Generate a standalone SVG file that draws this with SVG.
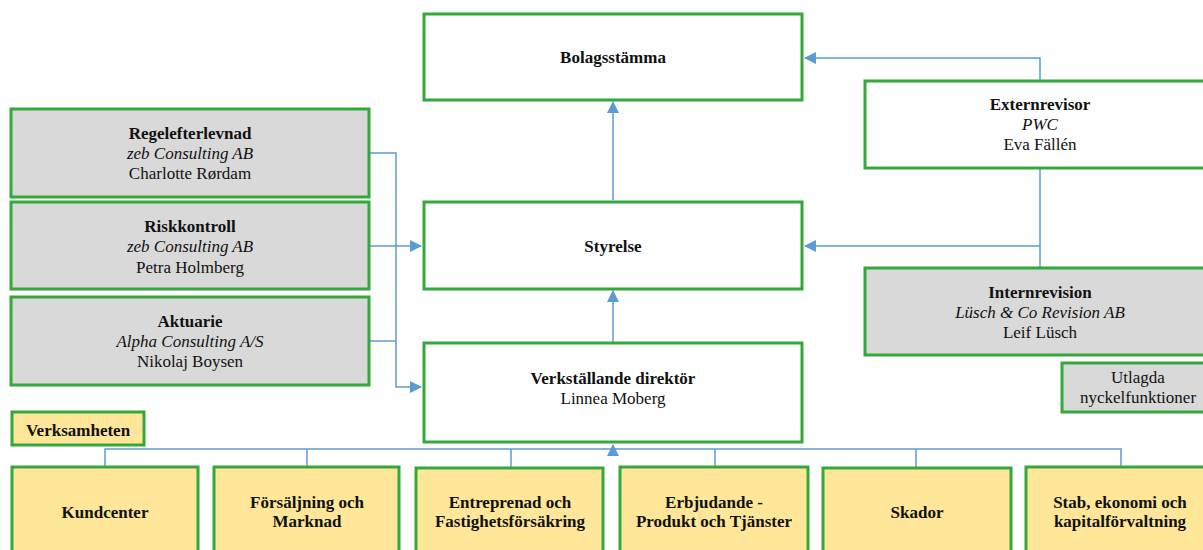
<svg xmlns="http://www.w3.org/2000/svg" width="1203" height="550" viewBox="0 0 1203 550">
<style>
  .box{stroke:#34A83A;stroke-width:3}
  .w{fill:#FFFFFF}
  .g{fill:#D9D9D9}
  .y{fill:#FFE699}
  text{font-family:'Liberation Serif','Times New Roman',serif;font-size:17px;fill:#111;text-anchor:middle}
  .b{font-weight:bold}
  .i{font-style:italic}
  .c{fill:none;stroke:#5B9BD5;stroke-width:1.5}
</style>
<defs>
  <marker id="ah" markerUnits="userSpaceOnUse" markerWidth="12" markerHeight="12" viewBox="0 0 12 12" refX="11" refY="6" orient="auto">
    <path d="M0,0 L12,6 L0,12 Z" fill="#5B9BD5"/>
  </marker>
</defs>
<rect width="1203" height="550" fill="#FFFFFF"/>
<g id="connectors">
  <path class="c" d="M1040,80 V58 H805" marker-end="url(#ah)"/>
  <path class="c" d="M1040,168 V268"/>
  <path class="c" d="M1040,246 H805" marker-end="url(#ah)"/>
  <path class="c" d="M613,200 V102" marker-end="url(#ah)"/>
  <path class="c" d="M613,342 V291" marker-end="url(#ah)"/>
  <path class="c" d="M369,153 H396 V387 H421" marker-end="url(#ah)"/>
  <path class="c" d="M369,246 H421" marker-end="url(#ah)"/>
  <path class="c" d="M369,341 H396"/>
  <path class="c" d="M105,467 V449 H1121 V467"/>
  <path class="c" d="M307,449 V467 M511,449 V467 M715,449 V467 M916,449 V467"/>
  <path class="c" d="M613,449 V445" marker-end="url(#ah)"/>
</g>
<g id="bolagsstamma">
  <rect class="box w" x="424" y="14" width="378" height="86"/>
  <text class="b" x="613" y="63">Bolagsstämma</text>
</g>
<g id="styrelse">
  <rect class="box w" x="424" y="202" width="378" height="87"/>
  <text class="b" x="613" y="252">Styrelse</text>
</g>
<g id="vd">
  <rect class="box w" x="424" y="343" width="378" height="99"/>
  <text class="b" x="613" y="384">Verkställande direktör</text>
  <text x="613" y="404">Linnea Moberg</text>
</g>
<g id="regelefterlevnad">
  <rect class="box g" x="11" y="109" width="358" height="88"/>
  <text class="b" x="190" y="139">Regelefterlevnad</text>
  <text class="i" x="190" y="159">zeb Consulting AB</text>
  <text x="190" y="179">Charlotte Rørdam</text>
</g>
<g id="riskkontroll">
  <rect class="box g" x="11" y="202" width="358" height="87"/>
  <text class="b" x="190" y="232">Riskkontroll</text>
  <text class="i" x="190" y="252">zeb Consulting AB</text>
  <text x="190" y="273">Petra Holmberg</text>
</g>
<g id="aktuarie">
  <rect class="box g" x="11" y="297" width="358" height="88"/>
  <text class="b" x="190" y="327">Aktuarie</text>
  <text class="i" x="190" y="347">Alpha Consulting A/S</text>
  <text x="190" y="367">Nikolaj Boysen</text>
</g>
<g id="externrevisor">
  <rect class="box w" x="865" y="81" width="352" height="87"/>
  <text class="b" x="1040" y="110">Externrevisor</text>
  <text class="i" x="1040" y="130">PWC</text>
  <text x="1040" y="150">Eva Fällén</text>
</g>
<g id="internrevision">
  <rect class="box g" x="865" y="268" width="352" height="87"/>
  <text class="b" x="1040" y="298">Internrevision</text>
  <text class="i" x="1040" y="318">Lüsch &amp; Co Revision AB</text>
  <text x="1040" y="338">Leif Lüsch</text>
</g>
<g id="utlagda">
  <rect class="box g" x="1062" y="363" width="155" height="49"/>
  <text x="1138" y="383">Utlagda</text>
  <text x="1138" y="403">nyckelfunktioner</text>
</g>
<g id="verksamheten">
  <rect class="box y" x="12" y="412" width="132" height="33"/>
  <text class="b" x="78" y="436">Verksamheten</text>
</g>
<g id="kundcenter">
  <rect class="box y" x="12" y="467" width="186" height="90"/>
  <text class="b" x="105" y="518">Kundcenter</text>
</g>
<g id="forsaljning">
  <rect class="box y" x="214" y="467" width="185" height="90"/>
  <text class="b" x="307" y="508">Försäljning och</text>
  <text class="b" x="307" y="527">Marknad</text>
</g>
<g id="entreprenad">
  <rect class="box y" x="416" y="468" width="187" height="90"/>
  <text class="b" x="510" y="508">Entreprenad och</text>
  <text class="b" x="510" y="527">Fastighetsförsäkring</text>
</g>
<g id="erbjudande">
  <rect class="box y" x="620" y="467" width="188" height="90"/>
  <text class="b" x="714" y="508">Erbjudande -</text>
  <text class="b" x="714" y="527">Produkt och Tjänster</text>
</g>
<g id="skador">
  <rect class="box y" x="823" y="468" width="188" height="90"/>
  <text class="b" x="917" y="518">Skador</text>
</g>
<g id="stab">
  <rect class="box y" x="1026" y="467" width="190" height="90"/>
  <text class="b" x="1120" y="508">Stab, ekonomi och</text>
  <text class="b" x="1120" y="527">kapitalförvaltning</text>
</g>
</svg>
